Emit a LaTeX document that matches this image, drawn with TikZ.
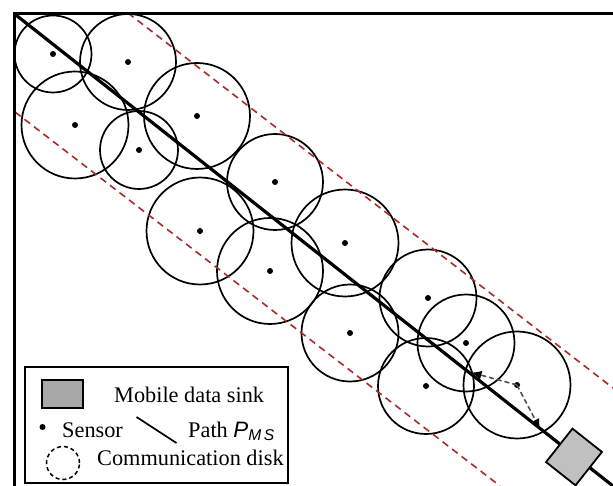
\documentclass[tikz,border=0pt]{standalone}
\usepackage{fontspec}
\setmainfont{Liberation Serif}
\setsansfont{Liberation Sans}
\usetikzlibrary{arrows.meta}
\definecolor{bordred}{HTML}{A82A2A}
\definecolor{sinkgray}{HTML}{C0C0C0}
\definecolor{legray}{HTML}{A8A8A8}
\definecolor{arrgray}{HTML}{505050}
\begin{document}
\begin{tikzpicture}[x=1pt,y=-1pt,
  disk/.style={circle,draw=black,line width=1.7pt,minimum size=#1,inner sep=0pt},
  dotmark/.style={fill=black},
  border/.style={draw=bordred,line width=1.6pt,dash pattern=on 7pt off 5pt},
  mainpath/.style={line width=3.2pt},
  hop/.style={draw=arrgray,line width=1.6pt,dash pattern=on 5pt off 3pt,
    -{Latex[length=10pt,width=9pt,color=black]}},
  lab/.style={anchor=base west,inner sep=0pt,font=\fontsize{22.3}{27}\selectfont}]
\useasboundingbox (0,0) rectangle (613,486);

% communication disks
\node[disk=77]  (c1)  at (53,54)   {};
\node[disk=96]  (c2)  at (128,62)  {};
\node[disk=107] (c3)  at (75,125)  {};
\node[disk=78]  (c4)  at (139,150) {};
\node[disk=106] (c5)  at (197,116) {};
\node[disk=96]  (c6)  at (275,182) {};
\node[disk=107] (c7)  at (200,231) {};
\node[disk=106] (c8)  at (270,271) {};
\node[disk=107] (c9)  at (345,243) {};
\node[disk=97]  (c10) at (350,333) {};
\node[disk=97]  (c11) at (428,298) {};
\node[disk=97]  (c12) at (466,343) {};
\node[disk=96]  (c13) at (426,386) {};
\node[disk=107] (c14) at (517,385) {};
\foreach \i in {1,...,14} {\fill[dotmark] (c\i.center) circle[radius=3];}

% corridor borders
\coordinate (u1) at (128,13);
\coordinate (u2) at (613,388);
\coordinate (l1) at (15,112);
\coordinate (l2) at (500,486);
\draw[border] (u1) -- (u2);
\draw[border] (l1) -- (l2);

% frame
\coordinate (fr) at (613,13.5);
\coordinate (fo) at (14,13.5);
\coordinate (fb) at (14,486);
\draw[line width=3pt] (fr) -- (fo) -- (fb);

% path of the mobile sink
\coordinate (pstart) at (14,13.5);
\coordinate (pend) at (613,486);
\draw[mainpath] (pstart) -- (pend);

% hops to the path
\coordinate (h1) at (471.5,372.5);
\coordinate (h2) at (540,429);
\draw[hop] (c14.center) -- (h1);
\draw[hop] (c14.center) -- (h2);

% mobile data sink
\node[draw=black,fill=sinkgray,line width=1.8pt,minimum width=37.6,minimum height=42.6,
  inner sep=0pt,rotate=-38.3] (sink) at (574,457) {};

% legend
\node[draw=black,line width=1.6pt,fill=white,minimum width=263,minimum height=116,
  inner sep=0pt] (legend) at (156.5,425) {};
\node[draw=black,fill=legray,line width=1.6pt,minimum width=41,minimum height=28,
  inner sep=0pt] (lsink) at (62.5,394) {};
\node[lab] (tsink) at (114,402) {Mobile data sink};
\node[circle,fill=black,inner sep=0pt,minimum size=6] (ldot) at (42.5,427) {};
\node[lab] (tsensor) at (62,437) {Sensor};
\coordinate (lp1) at (136.5,417);
\coordinate (lp2) at (176.5,443);
\draw[line width=1.7pt] (lp1) -- (lp2);
\node[lab] (tpath) at (188,437) {Path {\sffamily\itshape P}\textsubscript{\sffamily\itshape M\,S}};
\node[circle,draw=black,line width=1.5pt,dash pattern=on 4pt off 3pt,minimum size=33,
  inner sep=0pt] (ldisk) at (63,463) {};
\node[lab] (tdisk) at (97,465) {Communication disk};
\end{tikzpicture}
\end{document}
